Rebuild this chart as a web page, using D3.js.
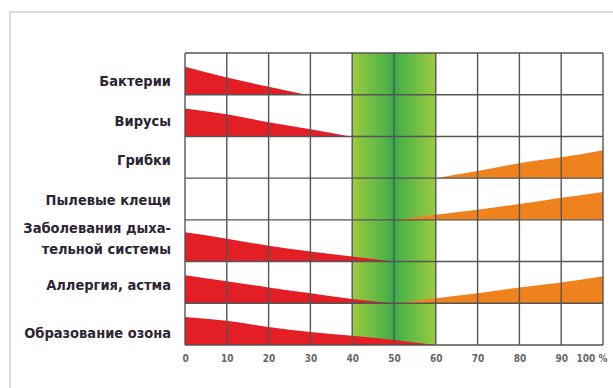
<!DOCTYPE html>
<html><head><meta charset="utf-8">
<script src="https://cdn.jsdelivr.net/npm/d3@7"></script>
<style>
html,body{margin:0;padding:0;background:#fff;}
svg{display:block;}
</style></head>
<body>
<svg id="c" width="613" height="388"></svg>
<script>
// ---- data ----
const categories = ["Бактерии", "Вирусы", "Грибки", "Пылевые клещи",
  "Заболевания дыха-\nтельной системы", "Аллергия, астма", "Образование озона"];
const xTickValues = [0,10,20,30,40,50,60,70,80,90,100];
const xTickLabels = ["0","10","20","30","40","50","60","70","80","90","100 %"];
const optimalZone = [40, 60];
// risk at low humidity (red), [humidity %, relative intensity %]
const lowBacteria   = [[0,67],[10,41],[20,19],[29,0]];
const lowViruses    = [[0,67],[10,53],[20,34],[30,17],[39.5,0]];
const lowRespir     = [[0,70],[10,55],[20,38],[30,24],[40,12],[50,0]];
const lowAllergy    = [[0,67],[10,53],[20,38],[30,24],[40,10],[50,0]];
const lowOzone      = [[0,67],[10,58],[20,43],[30,31],[40,22],[50,12],[60,0]];
// risk at high humidity (orange)
const highFungi     = [[60,0],[70,17],[80,36],[90,50],[100,67]];
const highMites     = [[50,0],[60,12],[70,24],[80,38],[90,53],[100,67]];
const highAllergy   = [[50,0],[60,12],[70,24],[80,38],[90,50],[100,65]];

const lowSeries  = [[0,lowBacteria],[1,lowViruses],[4,lowRespir],[5,lowAllergy],[6,lowOzone]];
const highSeries = [[2,highFungi],[3,highMites],[5,highAllergy]];
const labelNudge = [7,5,3,1,-2,2,9];

// ---- layout ----
const svg = d3.select("#c");
const L = 185, R = 603, T = 53, B = 345;
const x = d3.scaleLinear().domain([0,100]).range([L,R]);
const y = d3.scaleBand().domain(d3.range(categories.length)).range([T,B]).padding(0);
const h = d3.scaleLinear().domain([0,100]).range([0,y.bandwidth()]);

// outer frame
svg.append("rect").attr("x",10).attr("y",12).attr("width",640).attr("height",420)
  .attr("fill","none").attr("stroke","#dcdcdc").attr("stroke-width",2);

// green zone gradient
const defs = svg.append("defs");
const g = defs.append("linearGradient").attr("id","gz").attr("x1","0").attr("x2","1").attr("y1","0").attr("y2","0");
[[0,"#9ccb3f"],[0.42,"#4db348"],[0.5,"#3aa84a"],[0.58,"#4db348"],[1,"#9ccb3f"]].forEach(s=>
  g.append("stop").attr("offset",s[0]).attr("stop-color",s[1]));
svg.append("rect").attr("x",x(optimalZone[0])).attr("y",T)
  .attr("width",x(optimalZone[1])-x(optimalZone[0])).attr("height",B-T).attr("fill","url(#gz)");

function area(row){
  return d3.area().x(d=>x(d[0])).y0(y(row)+y.bandwidth()).y1(d=>y(row)+y.bandwidth()-h(d[1]))
    .curve(d3.curveMonotoneX);
}
lowSeries.forEach(([row,data])=>{
  svg.append("path").attr("d",area(row)(data)).attr("fill","#e31e24");
});
highSeries.forEach(([row,data])=>{
  svg.append("path").attr("d",area(row)(data)).attr("fill","#f0821e");
});

// grid
const grid = svg.append("g").attr("stroke","#555").attr("stroke-width",1.4).attr("fill","none");
xTickValues.forEach(v=>grid.append("line").attr("x1",x(v)).attr("x2",x(v)).attr("y1",T).attr("y2",B));
d3.range(categories.length+1).forEach(i=>{
  const yy = i<categories.length ? y(i) : B;
  grid.append("line").attr("x1",L).attr("x2",R).attr("y1",yy).attr("y2",yy);
});

// x axis labels
const xAxis = d3.axisBottom(x).tickValues(xTickValues).tickSize(0)
  .tickFormat((d,i)=>xTickLabels[i]);
const ax = svg.append("g").attr("transform",`translate(0,${B})`).call(xAxis);
ax.select(".domain").remove();
ax.selectAll("text").attr("fill","#666").attr("font-family","'Liberation Sans Narrow','DejaVu Sans Condensed',sans-serif")
  .attr("font-weight","bold").attr("font-size",10).attr("dy","1.4em");
ax.selectAll("text").filter(d=>d===100).attr("text-anchor","end").attr("dx",4);

// row labels
categories.forEach((c,i)=>{
  const lines = c.split("\n");
  const cy = y(i)+y.bandwidth()/2+labelNudge[i];
  const t = svg.append("text").attr("x",171).attr("text-anchor","end")
    .attr("font-family","'Liberation Sans Narrow','DejaVu Sans Condensed',sans-serif")
    .attr("font-weight","bold").attr("font-size",14.5).attr("fill","#2c2634");
  const lh = 21;
  lines.forEach((ln,j)=>{
    t.append("tspan").attr("x",171).attr("y",cy + (j-(lines.length-1)/2)*lh).attr("dy","0.35em").text(ln);
  });
});
</script>
</body></html>
